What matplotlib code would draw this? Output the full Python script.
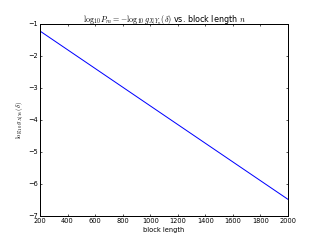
import matplotlib
matplotlib.use("Agg")
import matplotlib.pyplot as plt

plt.style.use('classic')
plt.rcParams['axes.linewidth'] = 1.8
plt.rcParams['xtick.major.width'] = 1.2
plt.rcParams['ytick.major.width'] = 1.2

block_length = [200, 2000]
log_g = [-1.22, -6.48]

fig = plt.figure(figsize=(8, 6), dpi=40)
ax = fig.add_subplot(111)
ax.plot(block_length, log_g, color='b', linewidth=1.8)
ax.set_xlim(200, 2000)
ax.set_ylim(-7, -1)
ax.set_xticks([200, 400, 600, 800, 1000, 1200, 1400, 1600, 1800, 2000])
ax.set_yticks([-7, -6, -5, -4, -3, -2, -1])
ax.set_xlabel('block length')
ax.set_ylabel(r'$\log_{10}g_{X|Y_n}(\delta)$')
ax.set_title(r'$\log_{10}P_m = -\log_{10}g_{X|Y_n}(\delta)$ vs. block length $n$')
fig.savefig('out.png', dpi=40)
